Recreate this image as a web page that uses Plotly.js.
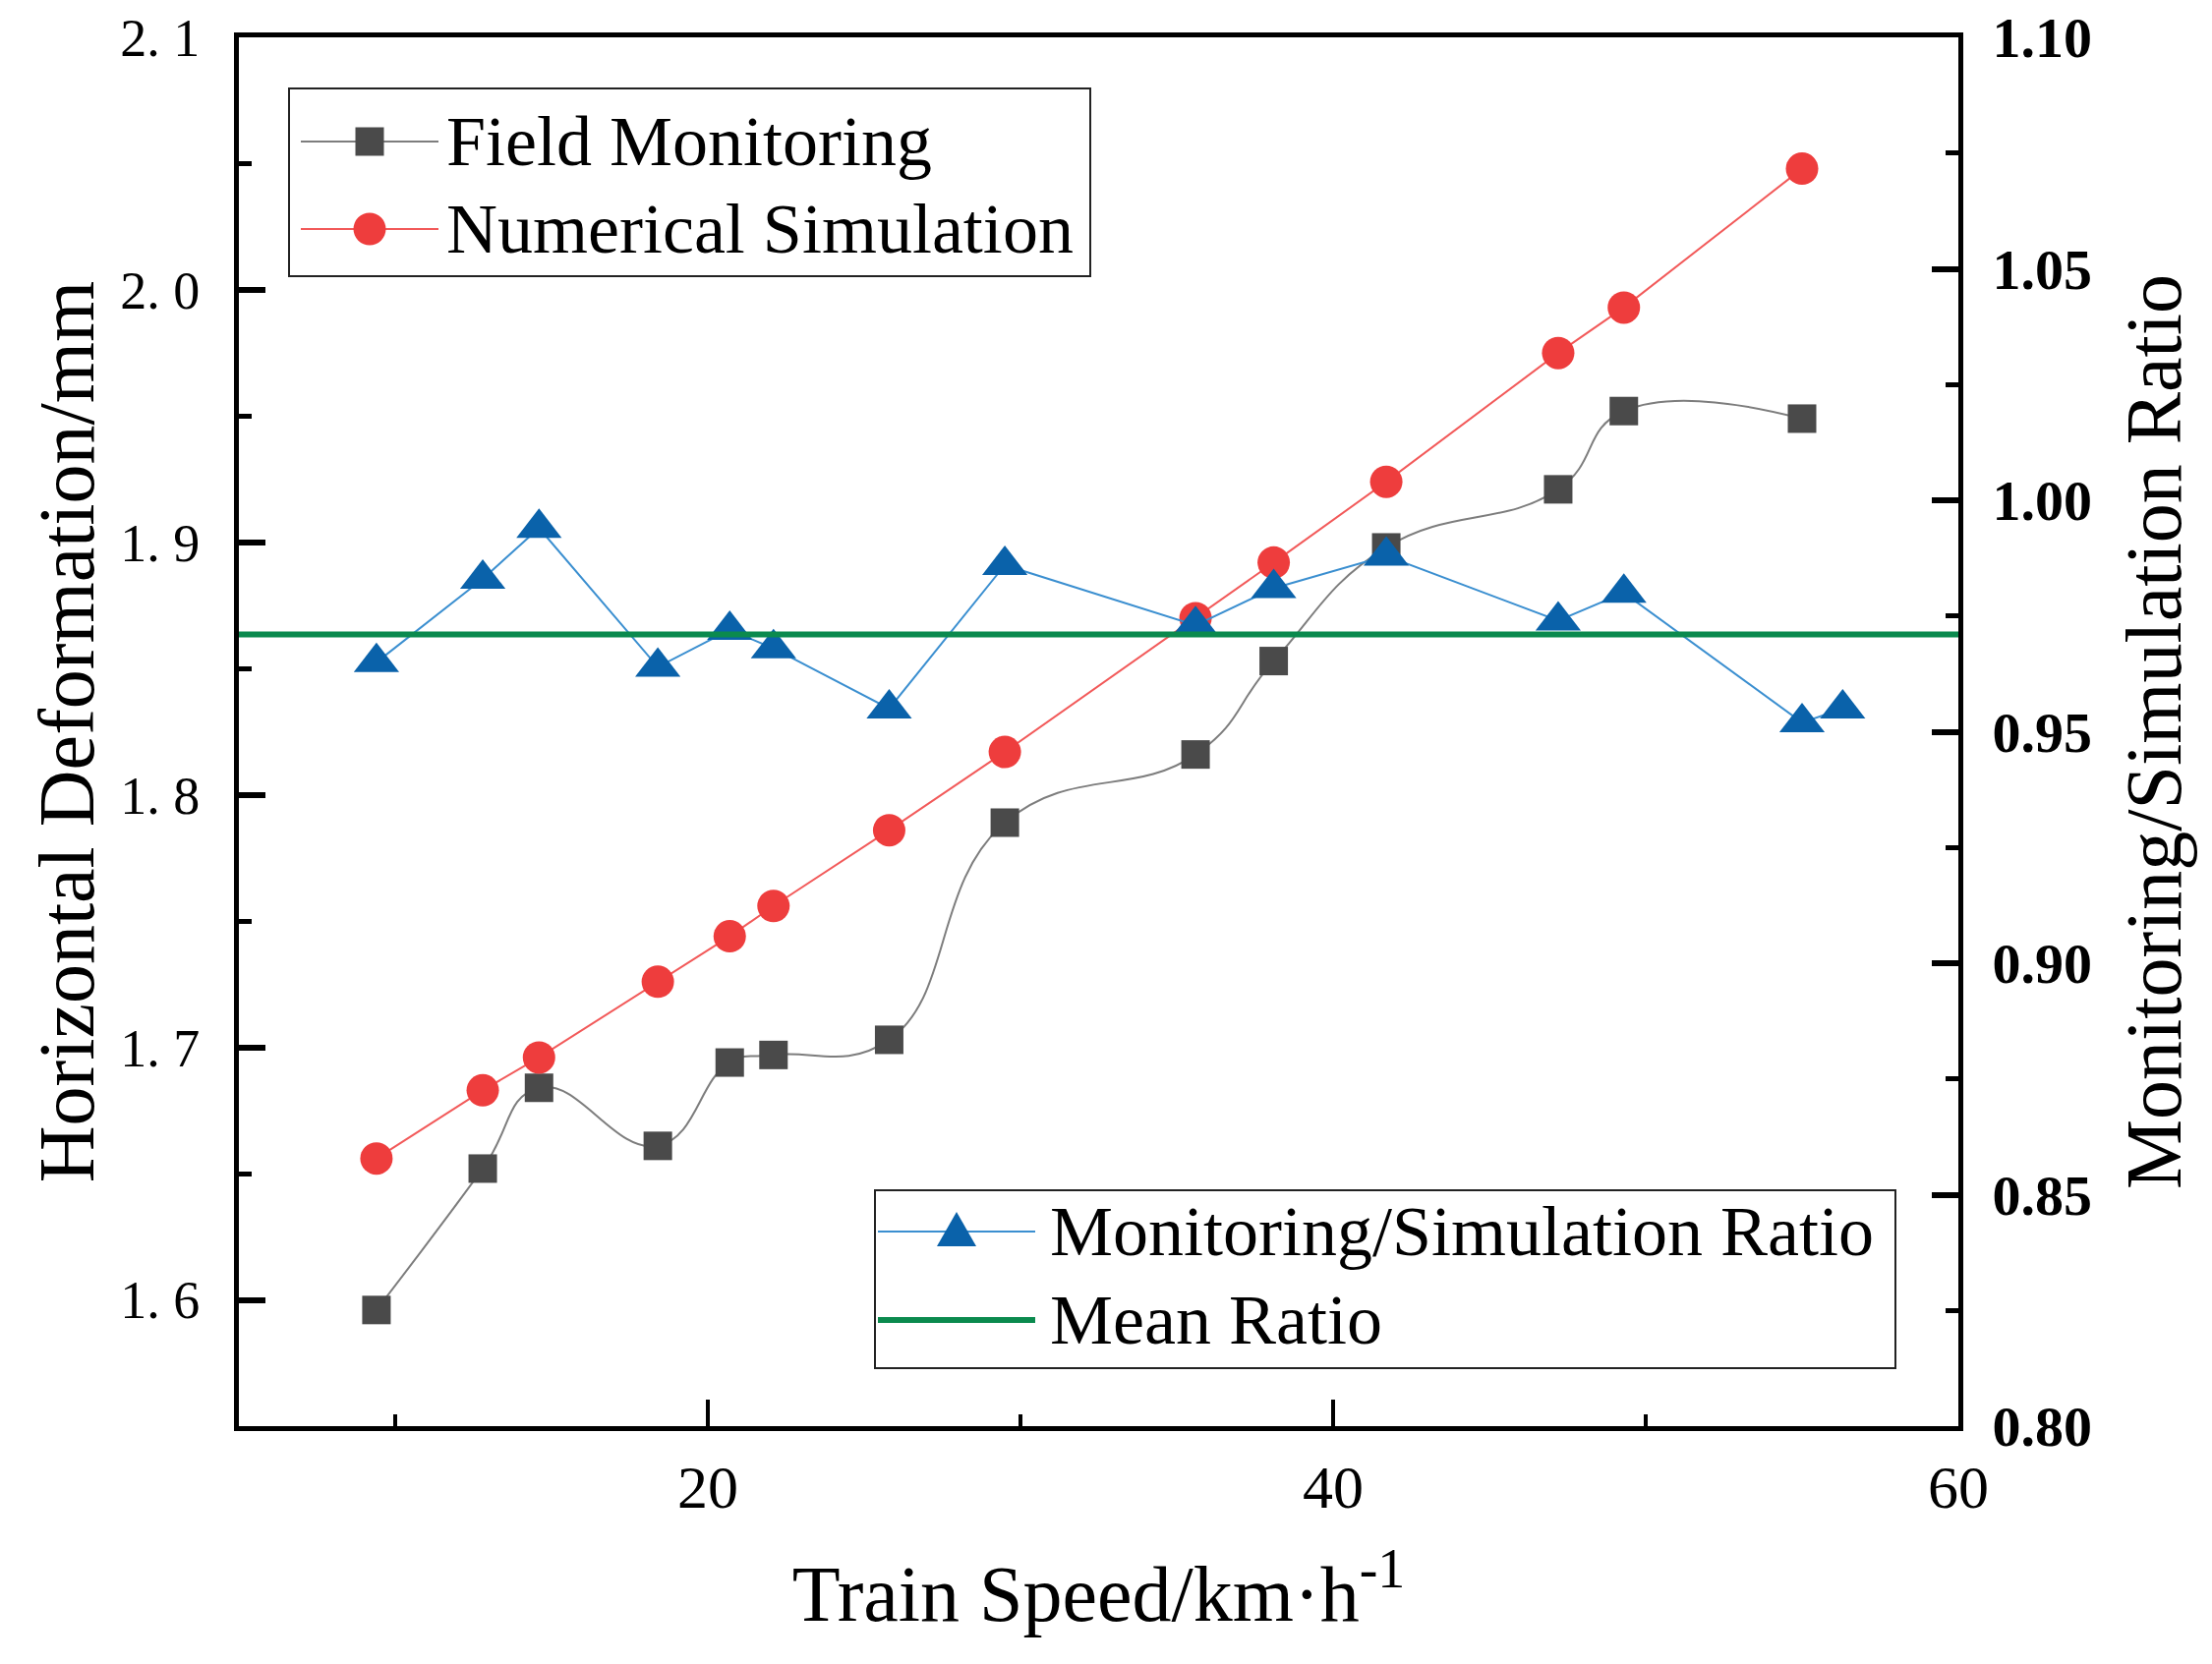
<!DOCTYPE html>
<html>
<head>
<meta charset="utf-8" />
<script src="https://cdn.plot.ly/plotly-3.0.1.min.js"></script>
<style>
  html, body { margin: 0; padding: 0; background: #fff; }
  #chart { width: 2250px; height: 1693px; }
</style>
</head>
<body>
<div id="chart"></div>
<script>
// Data

const speed = [9.4, 12.8, 14.6, 18.4, 20.7, 22.1, 25.8, 29.5, 35.6, 38.1, 41.7, 47.2, 49.3, 55.0];
const fieldMonitoring = [1.596, 1.652, 1.684, 1.661, 1.694, 1.697, 1.703, 1.789, 1.816, 1.853, 1.898, 1.921, 1.952, 1.949];
const numericalSimulation = [1.656, 1.683, 1.696, 1.726, 1.744, 1.756, 1.786, 1.817, 1.870, 1.892, 1.924, 1.975, 1.993, 2.048];

const ratioSpeed = [9.4, 12.8, 14.6, 18.4, 20.7, 22.1, 25.8, 29.5, 35.6, 38.1, 41.7, 47.2, 49.3, 55.0, 56.3];
const ratio = [0.965, 0.983, 0.994, 0.964, 0.972, 0.968, 0.955, 0.986, 0.973, 0.981, 0.988, 0.974, 0.980, 0.952, 0.955];
const meanRatio = 0.971;

const speedRange = [5, 60];
const leftTickVals = [1.6, 1.7, 1.8, 1.9, 2.0, 2.1];
const leftTickText = ["1. 6", "1. 7", "1. 8", "1. 9", "2. 0", "2. 1"];
const leftMinorVals = [1.65, 1.75, 1.85, 1.95, 2.05];

// Plot area in pixels (used for the hand-drawn legend boxes)

const W = 2250;
const H = 1693;
const plotL = 243;
const plotR = 1992;
const plotT = 38;
const plotB = 1451;

const px = function (x) {
  return (x - plotL) / (plotR - plotL);
};
const py = function (y) {
  return (plotB - y) / (plotB - plotT);
};

const FONT = "Liberation Serif, Times New Roman, serif";

const colors = {
  fieldLine: "#7d7d7d",
  fieldMarker: "#4a4a4a",
  simLine: "#f25a5a",
  simMarker: "#ee3d3d",
  ratioLine: "#3b8fd0",
  ratioMarker: "#0a62aa",
  mean: "#0b8a4e",
};

// Traces

const traces = [
  {
    x: speed,
    y: fieldMonitoring,
    name: "Field Monitoring",
    type: "scatter",
    mode: "lines+markers",
    line: { color: colors.fieldLine, width: 2, shape: "spline", smoothing: 1.3 },
    marker: { symbol: "square", size: 29, color: colors.fieldMarker },
    yaxis: "y",
  },
  {
    x: speed,
    y: numericalSimulation,
    name: "Numerical Simulation",
    type: "scatter",
    mode: "lines+markers",
    line: { color: colors.simLine, width: 2 },
    marker: { symbol: "circle", size: 33, color: colors.simMarker },
    yaxis: "y",
  },
  {
    x: ratioSpeed,
    y: ratio,
    name: "Monitoring/Simulation Ratio",
    type: "scatter",
    mode: "lines+markers",
    line: { color: colors.ratioLine, width: 2 },
    marker: { symbol: "triangle-up", size: 40, color: colors.ratioMarker },
    yaxis: "y2",
  },
  {
    x: speedRange,
    y: [meanRatio, meanRatio],
    name: "Mean Ratio",
    type: "scatter",
    mode: "lines",
    line: { color: colors.mean, width: 6 },
    yaxis: "y2",
  },
];

// Legends (drawn as shapes + annotations to get the long symbol lines)

const legendShapes = [];
const legendTexts = [];

const addLegendBox = function (x0, y0, x1, y1) {
  legendShapes.push({
    type: "rect",
    xref: "paper",
    yref: "paper",
    x0: px(x0),
    x1: px(x1),
    y0: py(y1),
    y1: py(y0),
    line: { color: "#222", width: 2 },
    fillcolor: "rgba(255,255,255,0)",
  });
};

const addLegendItem = function (lineX0, lineX1, y, lineColor, lineWidth, symbol, symbolColor, textX, label) {
  legendShapes.push({
    type: "line",
    xref: "paper",
    yref: "paper",
    x0: px(lineX0),
    x1: px(lineX1),
    y0: py(y),
    y1: py(y),
    line: { color: lineColor, width: lineWidth },
  });

  const cx = px((lineX0 + lineX1) / 2);
  const cy = py(y);
  const base = {
    xref: "paper",
    yref: "paper",
    xsizemode: "pixel",
    ysizemode: "pixel",
    xanchor: cx,
    yanchor: cy,
    fillcolor: symbolColor,
    line: { width: 0 },
  };

  if (symbol === "square") {
    legendShapes.push({ ...base, type: "rect", x0: -14.5, x1: 14.5, y0: -14.5, y1: 14.5 });
  } else if (symbol === "circle") {
    legendShapes.push({ ...base, type: "circle", x0: -16.5, x1: 16.5, y0: -16.5, y1: 16.5 });
  } else if (symbol === "triangle") {
    legendShapes.push({ ...base, type: "path", path: "M-20,-15 L20,-15 L0,20 Z" });
  }

  legendTexts.push({
    xref: "paper",
    yref: "paper",
    x: px(textX),
    y: py(y),
    xanchor: "left",
    yanchor: "middle",
    showarrow: false,
    text: label,
    font: { family: FONT, size: 72, color: "#000" },
  });
};

addLegendBox(294, 90, 1109, 281);
addLegendItem(306, 446, 144, colors.fieldLine, 2, "square", colors.fieldMarker, 452, "Field Monitoring");
addLegendItem(306, 446, 233, colors.simLine, 2, "circle", colors.simMarker, 452, "Numerical Simulation");

addLegendBox(890, 1211, 1928, 1392);
addLegendItem(893, 1053, 1253, colors.ratioLine, 2, "triangle", colors.ratioMarker, 1066, "Monitoring/Simulation Ratio");
addLegendItem(893, 1053, 1343, colors.mean, 6, null, null, 1066, "Mean Ratio");

// Layout

const layout = {
  width: W,
  height: H,
  paper_bgcolor: "#fff",
  plot_bgcolor: "#fff",
  showlegend: false,
  font: { family: FONT, color: "#000" },
  margin: { l: plotL, r: W - plotR, t: plotT, b: H - plotB, pad: 0 },
  xaxis: {
    range: speedRange,
    tickmode: "linear",
    tick0: 0,
    dtick: 20,
    ticks: "inside",
    ticklen: 27,
    tickwidth: 4,
    tickcolor: "#000",
    minor: { tickmode: "linear", tick0: 0, dtick: 10, ticks: "inside", ticklen: 12, tickwidth: 4, tickcolor: "#000" },
    showline: true,
    linewidth: 5,
    linecolor: "#000",
    mirror: true,
    showgrid: false,
    zeroline: false,
    tickfont: { family: FONT, size: 62, color: "#000" },
    ticklabelstandoff: 4,
    title: {
      text: "Train Speed/km·h<sup>-1</sup>",
      font: { family: FONT, size: 80, color: "#000" },
      standoff: 48,
    },
  },
  yaxis: {
    range: [1.55, 2.1],
    tickmode: "array",
    tickvals: leftTickVals,
    ticktext: leftTickText,
    ticks: "inside",
    ticklen: 27,
    tickwidth: 6,
    tickcolor: "#000",
    minor: { tickmode: "array", tickvals: leftMinorVals, ticks: "inside", ticklen: 13, tickwidth: 5, tickcolor: "#000" },
    showline: true,
    linewidth: 5,
    linecolor: "#000",
    showgrid: false,
    zeroline: false,
    tickfont: { family: FONT, size: 54, color: "#000" },
    ticklabelstandoff: 24,
    title: {
      text: "Horizontal Deformation/mm",
      font: { family: FONT, size: 80, color: "#000" },
      standoff: 2,
    },
  },
  yaxis2: {
    range: [0.8, 1.1],
    overlaying: "y",
    side: "right",
    tickmode: "linear",
    tick0: 0.8,
    dtick: 0.05,
    tickformat: ".2f",
    ticks: "inside",
    ticklen: 27,
    tickwidth: 6,
    tickcolor: "#000",
    minor: { tickmode: "linear", tick0: 0.8, dtick: 0.025, ticks: "inside", ticklen: 13, tickwidth: 5, tickcolor: "#000" },
    showline: true,
    linewidth: 5,
    linecolor: "#000",
    showgrid: false,
    zeroline: false,
    tickfont: { family: FONT, size: 58, color: "#000", weight: "bold" },
    ticklabelstandoff: 18,
    title: {
      text: "Monitoring/Simulation Ratio",
      font: { family: FONT, size: 80, color: "#000" },
      standoff: 36,
    },
  },
  shapes: legendShapes,
  annotations: legendTexts,
};

Plotly.newPlot("chart", traces, layout, {
  displayModeBar: false,
  responsive: false,
  staticPlot: true,
});
</script>
</body>
</html>
